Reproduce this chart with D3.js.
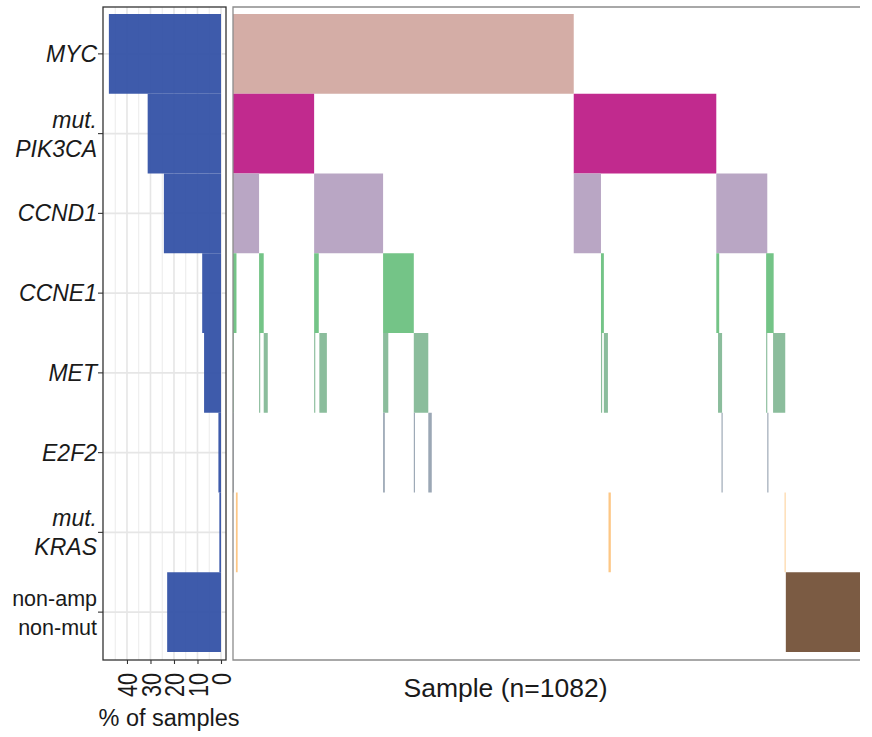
<!DOCTYPE html>
<html>
<head>
<meta charset="utf-8">
<script src="https://cdn.jsdelivr.net/npm/d3@7"></script>
<style>
  body { margin: 0; background: #fff; }
  svg { font-family: "Liberation Sans", Arial, sans-serif; }
</style>
</head>
<body>
<div class="content"></div>
<script>
var size = {width: 872, height: 737};

// row keys, top to bottom
var rows = ["MYC", "PIK3CA", "CCND1", "CCNE1", "MET", "E2F2", "KRAS", "none"];
var rowLabels = [["MYC"], ["mut.", "PIK3CA"], ["CCND1"], ["CCNE1"], ["MET"], ["E2F2"], ["mut.", "KRAS"], ["non-amp", "non-mut"]];
var rowItalic = [true, true, true, true, true, true, true, false];

// % of samples (left bars)
var pctSamples = [47.7, 31.2, 24.3, 8.0, 7.2, 1.1, 0.7, 22.9];
var pctTicks = [0, 10, 20, 30, 40];

// sample ranges [from, to] per row (sample index, n = 1082)
var nSamples = 1082;
var mycSamples = [[0, 588]];
var pik3caSamples = [[0, 140], [588, 834]];
var ccnd1Samples = [[0, 45], [140, 259], [588, 635], [834, 922]];
var ccne1Samples = [[0, 6], [45, 53], [140, 148], [259, 312], [635, 640], [834, 839], [920, 933]];
var metSamples = [[0, 1.5], [45, 47], [53, 60], [140, 142], [149, 162], [259, 268], [312, 337],
                  [635, 637], [640, 647], [837, 844], [920, 922], [932, 953]];
var e2f2Samples = [[0, 1.5], [259, 262], [312, 314], [337, 343], [843, 845], [922, 924]];
var krasSamples = [[5, 8], [648, 652], [952, 953.5]];
var noneSamples = [[954, 1082]];
var rowSamples = [mycSamples, pik3caSamples, ccnd1Samples, ccne1Samples, metSamples, e2f2Samples, krasSamples, noneSamples];

var rowColors = ["#d4ada6", "#c12a8e", "#b9a6c4", "#74c487", "#8bbd9c", "#9ba7b5", "#fdc785", "#7b5b43"];

var chart = d3.select('.content')
    .append('svg')
    .attr('width', size.width)
    .attr('height', size.height);

var yScale = d3.scaleBand()
    .domain(rows)
    .range([14, 652])
    .padding(0);

// ---- left panel: % of samples ----
var left = {x0: 103, x1: 226, y0: 7, y1: 660};
var pScale = d3.scaleLinear()
    .domain([50.2, -2.13])
    .range([left.x0, left.x1]);

var lp = chart.append('g');
// minor + major vertical grid
lp.selectAll('line.minor')
    .data([5, 15, 25, 35, 45])
    .enter().append('line')
    .attr('x1', function(d) { return pScale(d); })
    .attr('x2', function(d) { return pScale(d); })
    .attr('y1', left.y0).attr('y2', left.y1)
    .attr('stroke', '#ebebeb').attr('stroke-width', 1);
lp.selectAll('line.major')
    .data(pctTicks)
    .enter().append('line')
    .attr('x1', function(d) { return pScale(d); })
    .attr('x2', function(d) { return pScale(d); })
    .attr('y1', left.y0).attr('y2', left.y1)
    .attr('stroke', '#e6e6e6').attr('stroke-width', 1.6);
lp.selectAll('line.hgrid')
    .data(rows)
    .enter().append('line')
    .attr('x1', left.x0).attr('x2', left.x1)
    .attr('y1', function(d) { return yScale(d) + yScale.bandwidth() / 2; })
    .attr('y2', function(d) { return yScale(d) + yScale.bandwidth() / 2; })
    .attr('stroke', '#e6e6e6').attr('stroke-width', 1.6);

lp.selectAll('rect.bar')
    .data(rows)
    .enter().append('rect')
    .attr('x', function(d, i) { return pScale(pctSamples[i]); })
    .attr('width', function(d, i) { return pScale(0) - pScale(pctSamples[i]); })
    .attr('y', function(d) { return yScale(d); })
    .attr('height', yScale.bandwidth())
    .attr('fill', '#2f4fa5')
    .attr('fill-opacity', 0.93);

lp.append('rect')
    .attr('x', left.x0).attr('y', left.y0)
    .attr('width', left.x1 - left.x0).attr('height', left.y1 - left.y0)
    .attr('fill', 'none').attr('stroke', '#333').attr('stroke-width', 1.3);

// y axis with gene labels
var yAxis = d3.axisLeft(yScale).tickSize(5).tickPadding(2).tickFormat('');
var yAxisObj = chart.append('g')
    .attr('transform', 'translate(' + left.x0 + ',0)')
    .call(yAxis);
yAxisObj.select('.domain').remove();
yAxisObj.selectAll('.tick line').attr('stroke', '#333').attr('stroke-width', 1.1);
yAxisObj.selectAll('.tick').each(function(d, i) {
    var lines = rowLabels[i];
    var t = d3.select(this).append('text')
        .attr('x', -6)
        .attr('fill', '#1a1a1a')
        .attr('text-anchor', 'end')
        .style('font-size', rowItalic[i] ? '23px' : '21.5px')
        .style('font-style', rowItalic[i] ? 'italic' : 'normal');
    if (lines.length === 1) {
        t.append('tspan').attr('x', -6).attr('y', 8).text(lines[0]);
    } else {
        t.append('tspan').attr('x', -6).attr('y', -6).text(lines[0]);
        t.append('tspan').attr('x', -6).attr('y', 23).text(lines[1]);
    }
});

// bottom axis of left panel
var xAxis = d3.axisBottom(pScale).tickValues(pctTicks).tickSize(4).tickFormat('');
var xAxisObj = chart.append('g')
    .attr('transform', 'translate(0,' + left.y1 + ')')
    .call(xAxis);
xAxisObj.select('.domain').remove();
xAxisObj.selectAll('.tick line').attr('stroke', '#333').attr('stroke-width', 1.1);
xAxisObj.selectAll('.tick').append('text')
    .attr('transform', 'translate(0,13) rotate(-90) scale(0.8,1)')
    .attr('text-anchor', 'end')
    .attr('dy', '0.36em')
    .attr('fill', '#1a1a1a')
    .style('font-size', '27px')
    .text(function(d) { return d; });

chart.append('text')
    .attr('x', 169).attr('y', 726)
    .attr('text-anchor', 'middle')
    .attr('fill', '#1a1a1a')
    .style('font-size', '23.5px')
    .text('% of samples');

// ---- right panel: samples ----
var right = {x0: 233, x1: 860, y0: 7, y1: 660};
var sScale = d3.scaleLinear()
    .domain([0, nSamples])
    .range([right.x0, right.x1]);

var rp = chart.append('g');
rows.forEach(function(r, i) {
    rp.selectAll('rect.s' + i)
        .data(rowSamples[i])
        .enter().append('rect')
        .attr('x', function(d) { return sScale(d[0]); })
        .attr('width', function(d) { return sScale(d[1]) - sScale(d[0]); })
        .attr('y', yScale(r))
        .attr('height', yScale.bandwidth())
        .attr('fill', rowColors[i]);
});

rp.append('path')
    .attr('d', 'M' + right.x1 + ',' + right.y0 + 'H' + right.x0 + 'V' + right.y1 + 'H' + right.x1)
    .attr('fill', 'none')
    .attr('stroke', '#8c8c8c')
    .attr('stroke-width', 1.3);

chart.append('text')
    .attr('x', 505.5).attr('y', 697)
    .attr('text-anchor', 'middle')
    .attr('fill', '#1a1a1a')
    .style('font-size', '26.5px')
    .text('Sample (n=1082)');
</script>
</body>
</html>
